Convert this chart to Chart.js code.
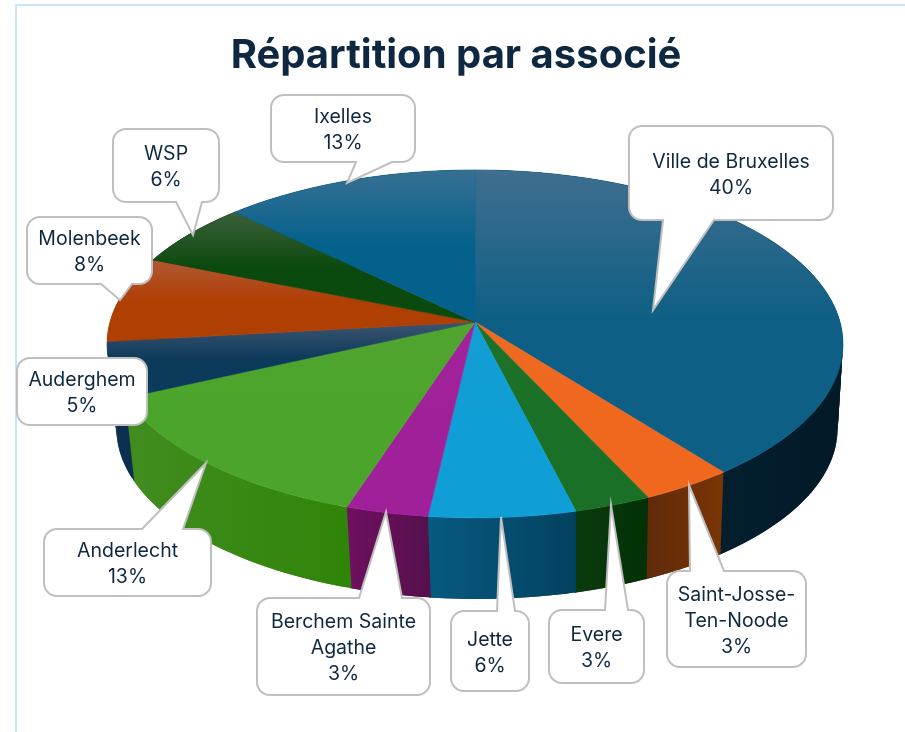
<!DOCTYPE html>
<html lang="fr">
<head>
<meta charset="utf-8">
<title>Répartition par associé</title>
<script src="https://cdn.jsdelivr.net/npm/chart.js@4/dist/chart.umd.min.js"></script>
<style>
  html, body { margin: 0; padding: 0; background: #fff; overflow: hidden; }
  body { width: 905px; height: 732px; position: relative; }
  #frame { position: absolute; left: 15px; top: 4px; right: 0; bottom: 0;
           border-left: 2px solid #cfe3f7; border-top: 2px solid #cfe3f7; }
  #chart { position: absolute; left: 0; top: 0; }
</style>
</head>
<body>
<div id="frame"></div>
<canvas id="chart" width="912" height="732"></canvas>
<script>
const categories = ["Ville de Bruxelles", ["Saint-Josse-", "Ten-Noode"], "Evere", "Jette", ["Berchem Sainte", "Agathe"],
  "Anderlecht", "Auderghem", "Molenbeek", "WSP", "Ixelles"];
// slice sizes measured on the picture
const shares = [39.5, 3.6, 3.0, 5.7, 3.2, 13.1, 5.1, 8.0, 6.1, 12.7];
// percentages as printed in the callouts
const printedShares = ["40%", "3%", "3%", "6%", "3%", "13%", "5%", "8%", "6%", "13%"];

const topColors = ["#0e5f85", "#f0681e", "#1a7026", "#0f9ed5", "#a0209a", "#4ba52a", "#0b3a5a", "#b03f04", "#0b4a0e", "#03618c"];
const wallColors = [["#04283b", "#021a28"], ["#5f2a0a", "#7a3505"], ["#0a3b0f", "#033005"], ["#075a80", "#03415f"], ["#701060", "#55104c"],
  ["#428c20", "#2f8508"], ["#0b2f50", "#0b2f50"], ["#7a3005", "#7a3005"], ["#083508", "#083508"], ["#03415f", "#03415f"]];
const sheenAlpha = [0.3, 0.03, 0.03, 0.03, 0.03, 0.05, 0.3, 0.3, 0.3, 0.3];

// callout boxes, same order as categories. tail = [base start, tip x, tip y, base end]
const callouts = [
  { l: 629, t: 126, r: 833, b: 220, side: "bottom", tail: [663, 653, 310, 714] },
  { l: 667, t: 571, r: 806, b: 667, side: "top", tail: [690, 689, 485, 724] },
  { l: 549, t: 610, r: 644, b: 683, side: "top", tail: [605, 611, 505, 628] },
  { l: 451, t: 611, r: 529, b: 691, side: "top", tail: [497, 501, 517, 515] },
  { l: 257, t: 598, r: 430, b: 695, side: "top", tail: [359, 386, 512, 402] },
  { l: 44, t: 529, r: 211, b: 596, side: "top", tail: [142, 206, 463, 183] },
  { l: 17, t: 358, r: 147, b: 425 },
  { l: 27, t: 217, r: 152, b: 284, side: "bottom", tail: [101, 120, 300, 132] },
  { l: 113, t: 129, r: 219, b: 202, side: "bottom", tail: [176, 193, 235, 202] },
  { l: 271, t: 95, r: 415, b: 162, side: "bottom", tail: [356, 347, 183, 392] }
];

// perspective of the tilted disc
const view = { cx: 475, cy: 322, a: 365, b: 171.2, k: 0.126, drop: 85, shrink: 0.98, shift: 2 };

// angle is the one Chart.js gives to the arc (canvas radians, 0 = east)
function project(angle, lower) {
  const X = Math.cos(angle), Y = Math.sin(angle);
  const w = 1 - view.k * Y;
  const s = lower ? view.shrink : 1;
  return {
    x: view.cx + s * view.a * X / w + (lower ? view.shift : 0),
    y: view.cy + s * view.b * Y / w + (lower ? view.drop : 0)
  };
}

function rimPoints(start, end, lower) {
  const steps = Math.max(2, Math.ceil((end - start) / 0.02));
  const pts = [];
  for (let i = 0; i <= steps; i++) pts.push(project(start + (end - start) * i / steps, lower));
  return pts;
}

function tracePoly(ctx, pts) {
  ctx.beginPath();
  pts.forEach((p, i) => i ? ctx.lineTo(p.x, p.y) : ctx.moveTo(p.x, p.y));
  ctx.closePath();
}

const pie3d = {
  id: "pie3d",
  beforeDatasetDraw(chart, args) {
    const ctx = chart.ctx;
    const arcs = args.meta.data;

    // walls first as overlapping quads, the top covers the hidden back part
    arcs.forEach((arc, i) => {
      const upper = rimPoints(arc.startAngle, arc.endAngle + 0.004, false);
      const lower = rimPoints(arc.startAngle, arc.endAngle + 0.004, true);
      const xs = upper.map(p => p.x);
      const grad = ctx.createLinearGradient(Math.min(...xs), 0, Math.max(...xs), 0);
      grad.addColorStop(0, wallColors[i][0]);
      grad.addColorStop(1, wallColors[i][1]);
      ctx.fillStyle = grad;
      for (let j = 0; j < upper.length - 1; j++) {
        const next = Math.min(j + 2, upper.length - 1);
        tracePoly(ctx, [upper[j], upper[next], lower[next], lower[j]]);
        ctx.fill();
      }
    });

    arcs.forEach((arc, i) => {
      const pts = [{ x: view.cx, y: view.cy }].concat(rimPoints(arc.startAngle, arc.endAngle, false));
      tracePoly(ctx, pts);
      ctx.fillStyle = topColors[i];
      ctx.strokeStyle = topColors[i];
      ctx.lineWidth = 0.6;
      ctx.fill();
      ctx.stroke();

      // greyish sheen on the upper half of each slice
      const ys = pts.map(p => p.y);
      const top = Math.min(...ys), bottom = Math.max(...ys);
      const sheen = ctx.createLinearGradient(0, top, 0, top + (bottom - top) * 0.5);
      sheen.addColorStop(0, `rgba(177,145,163,${sheenAlpha[i]})`);
      sheen.addColorStop(1, "rgba(177,145,163,0)");
      tracePoly(ctx, pts);
      ctx.fillStyle = sheen;
      ctx.fill();
    });
    return false;
  },
  afterDraw(chart) {
    const ctx = chart.ctx;
    callouts.forEach((box, i) => {
      traceCallout(ctx, box);
      ctx.fillStyle = "#fff";
      ctx.strokeStyle = "#bfbfbf";
      ctx.lineWidth = 2;
      ctx.fill();
      ctx.stroke();

      const name = [].concat(categories[i]);
      const lines = name.concat(printedShares[i]);
      const midX = (box.l + box.r) / 2;
      const midY = (box.t + box.b) / 2 + 2;
      ctx.font = "19.5px Inter";
      ctx.fillStyle = "#0e2841";
      ctx.textAlign = "center";
      ctx.textBaseline = "middle";
      lines.forEach((line, n) => {
        ctx.fillText(line, midX, midY + (n - (lines.length - 1) / 2) * 26);
      });
    });
  }
};

function traceCallout(ctx, box) {
  const r = 13;
  const { l, t, r: right, b, side, tail } = box;
  ctx.beginPath();
  ctx.moveTo(l + r, t);
  if (side === "top") {
    const from = Math.min(tail[0], tail[3]), to = Math.max(tail[0], tail[3]);
    ctx.lineTo(from, t);
    ctx.lineTo(tail[1], tail[2]);
    ctx.lineTo(to, t);
  }
  ctx.arcTo(right, t, right, t + r, r);
  ctx.arcTo(right, b, right - r, b, r);
  if (side === "bottom") {
    ctx.lineTo(tail[3], b);
    ctx.lineTo(tail[1], tail[2]);
    ctx.lineTo(tail[0], b);
  }
  ctx.arcTo(l, b, l, b - r, r);
  ctx.arcTo(l, t, l + r, t, r);
  ctx.closePath();
}

new Chart(document.getElementById("chart"), {
  type: "pie",
  data: {
    labels: categories,
    datasets: [{ data: shares, backgroundColor: topColors, borderWidth: 0 }]
  },
  options: {
    responsive: false,
    animation: false,
    plugins: {
      legend: { display: false },
      tooltip: { enabled: false },
      title: {
        display: true,
        text: "Répartition par associé",
        color: "#0e2841",
        font: { family: "Inter", size: 40, weight: "bold" },
        padding: { top: 32, bottom: 10 }
      }
    }
  },
  plugins: [pie3d]
});
</script>
</body>
</html>
